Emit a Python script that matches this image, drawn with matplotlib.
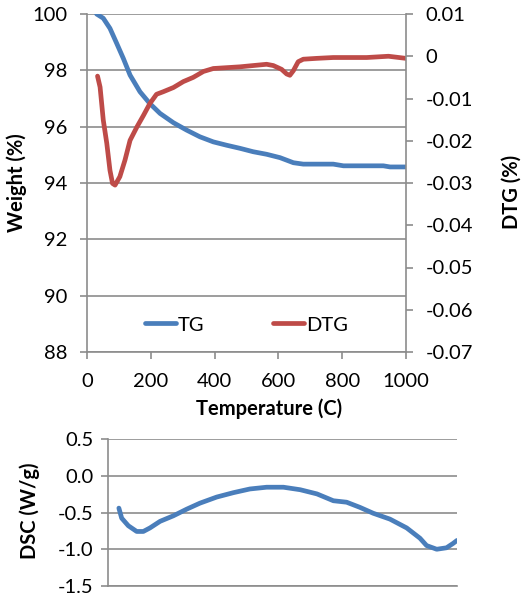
import matplotlib
matplotlib.use("Agg")
import matplotlib.pyplot as plt

# TG data
tg_temp = [30, 51, 72, 93, 114, 135, 166, 197, 229, 271, 312, 354, 396, 438, 480, 521, 563, 605, 647, 678, 772, 804, 929, 950, 1000]
tg_weight = [100, 99.85, 99.49, 98.96, 98.42, 97.83, 97.24, 96.82, 96.47, 96.14, 95.88, 95.64, 95.46, 95.34, 95.23, 95.11, 95.02, 94.90, 94.72, 94.67, 94.67, 94.61, 94.61, 94.57, 94.57]

# DTG data
dtg_temp = [33, 41, 51, 62, 72, 80, 88, 103, 119, 135, 156, 177, 197, 218, 239, 271, 302, 333, 365, 396, 438, 480, 521, 563, 584, 610, 626, 636, 647, 662, 678, 720, 772, 877, 945, 1000]
dtg_value = [-0.0047, -0.0073, -0.0151, -0.0206, -0.0270, -0.0301, -0.0305, -0.0285, -0.0246, -0.0199, -0.0168, -0.0140, -0.0112, -0.0090, -0.0084, -0.0074, -0.0060, -0.0050, -0.0036, -0.0029, -0.0027, -0.0025, -0.0022, -0.0019, -0.0022, -0.0031, -0.0042, -0.0045, -0.0034, -0.0013, -0.0007, -0.0005, -0.0003, -0.0003, 0.0, -0.0005]

# DSC data
dsc_temp = [32, 40, 59, 83, 102, 121, 150, 188, 226, 264, 312, 360, 407, 455, 503, 551, 599, 646, 684, 722, 760, 808, 856, 894, 913, 942, 970, 989, 1000]
dsc_value = [-0.44, -0.577, -0.68, -0.758, -0.758, -0.71, -0.62, -0.545, -0.455, -0.373, -0.29, -0.23, -0.18, -0.156, -0.156, -0.19, -0.247, -0.34, -0.36, -0.43, -0.51, -0.59, -0.71, -0.85, -0.95, -1.0, -0.98, -0.92, -0.88]

x_ticks = [0, 200, 400, 600, 800, 1000]
w_ticks = [88, 90, 92, 94, 96, 98, 100]
dtg_ticks = [-0.07, -0.06, -0.05, -0.04, -0.03, -0.02, -0.01, 0, 0.01]
dtg_labels = ["-0.07", "-0.06", "-0.05", "-0.04", "-0.03", "-0.02", "-0.01", "0", "0.01"]
dsc_ticks = [-1.5, -1.0, -0.5, 0.0, 0.5]
dsc_labels = ["-1.5", "-1.0", "-0.5", "0.0", "0.5"]

BLUE = "#4a7ebb"
RED = "#be4b48"
GRID = "#8c8c8c"
FONT = ["Lato", "DejaVu Sans"]
plt.rcParams['font.family'] = FONT
FS = 14.5

fig = plt.figure(figsize=(5.23, 6.03), dpi=100)

ax = fig.add_axes([87/523, 1-352/603, (406-87)/523, (352-14)/603])
ax2 = ax.twinx()

ax.plot(tg_temp, tg_weight, color=BLUE, lw=3.4, label="TG", solid_capstyle="round")
ax2.plot(dtg_temp, dtg_value, color=RED, lw=3.4, label="DTG", solid_capstyle="round")

ax.set_xlim(0, 1000)
ax.set_ylim(88, 100)
ax2.set_ylim(-0.07, 0.01)
ax.set_xticks(x_ticks)
ax.set_yticks(w_ticks)
ax2.set_yticks(dtg_ticks)
ax2.set_yticklabels(dtg_labels)
ax.yaxis.grid(True, color=GRID, lw=1.2)
ax.set_axisbelow(True)

for a in (ax, ax2):
    for s in a.spines.values():
        s.set_visible(False)
for a, k in ((ax, 'left'), (ax, 'bottom'), (ax2, 'right')):
    a.spines[k].set_visible(True)
    a.spines[k].set_color(GRID)
    a.spines[k].set_linewidth(1.2)

ax.tick_params(axis='y', colors=GRID, labelcolor='black', labelsize=FS, width=1.2, length=5, direction='out', pad=9)
ax.tick_params(axis='x', colors=GRID, labelcolor='black', labelsize=FS, width=1.2, length=5, direction='out', pad=10)
ax2.tick_params(axis='y', colors=GRID, labelcolor='black', labelsize=FS, width=1.2, length=5, direction='out', pad=9)

ax.set_xlabel("Temperature (C)", fontsize=FS, fontweight='bold')
ax.xaxis.set_label_coords(0.57, -0.136)
ax.set_ylabel("Weight (%)", fontsize=FS, fontweight='bold')
ax.yaxis.set_label_coords(-0.188, 0.50)
ax2.set_ylabel("DTG (%)", fontsize=FS, fontweight='bold', rotation=90)
ax2.yaxis.set_label_coords(1.301, 0.473)

h1, l1 = ax.get_legend_handles_labels()
h2, l2 = ax2.get_legend_handles_labels()
leg = ax.legend(h1 + h2, l1 + l2, ncol=2, frameon=False, fontsize=FS,
                loc='center', bbox_to_anchor=(0.5, 0.08), handlelength=1.55,
                handletextpad=0.1, columnspacing=3.4)

# DSC panel
bx = fig.add_axes([107.7/523, 1-586/603, (457-107.7)/523, (586-439)/603])
bx.plot(dsc_temp, dsc_value, color=BLUE, lw=3.4, solid_capstyle="round")
bx.set_xlim(0, 1000)
bx.set_ylim(-1.5, 0.5)
bx.set_yticks(dsc_ticks)
bx.set_yticklabels(dsc_labels)
bx.set_xticks([])
bx.yaxis.grid(True, color=GRID, lw=1.2)
bx.set_axisbelow(True)
for k, s in bx.spines.items():
    s.set_visible(k in ('left', 'bottom'))
    s.set_color(GRID)
    s.set_linewidth(1.2)
bx.tick_params(axis='y', colors=GRID, labelcolor='black', labelsize=FS, width=1.2, length=5, direction='out', pad=5)
bx.set_ylabel("DSC (W/g)", fontsize=FS, fontweight='bold')
bx.yaxis.set_label_coords(-0.194, 0.51)

fig.savefig("out.png", dpi=100)
